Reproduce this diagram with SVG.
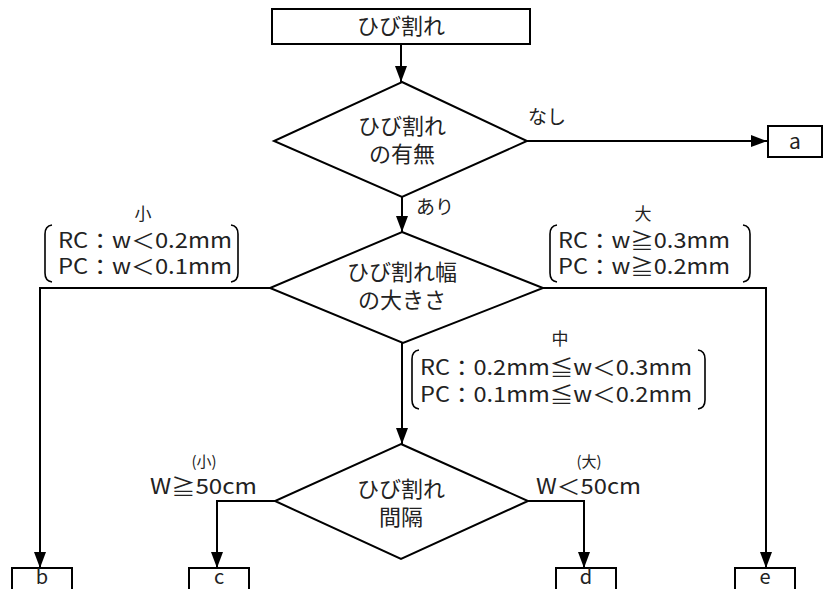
<svg xmlns="http://www.w3.org/2000/svg" width="824" height="589" viewBox="0 0 824 589">
<defs>
<marker id="ah" viewBox="0 0 16 12" refX="16" refY="6" markerWidth="16" markerHeight="12" markerUnits="userSpaceOnUse" orient="auto">
<path d="M0,0 L16,6 L0,12 z" fill="#000"/>
</marker>
<style>
.shape{fill:#fff;stroke:#000;stroke-width:2}
.ln{fill:none;stroke:#000;stroke-width:2}
.br{fill:none;stroke:#000;stroke-width:1.6}
text{font-family:"Noto Sans CJK JP","Noto Sans",sans-serif;fill:#222}
.t{font-size:22px;text-anchor:middle}
.lt{font-size:21px;text-anchor:middle}
.bt{font-size:20px;text-anchor:middle}
.lb{font-size:21px}
.jl{font-size:19px}
.sm{font-size:17px;text-anchor:middle}
.xs{font-size:15px;text-anchor:middle}
</style>
</defs>
<g id="connectors">
<path class="ln" d="M401,44 V82" marker-end="url(#ah)"/>
<path class="ln" d="M527,141 H767" marker-end="url(#ah)"/>
<path class="ln" d="M402,197 V232" marker-end="url(#ah)"/>
<path class="ln" d="M270,288 H40 V568" marker-end="url(#ah)"/>
<path class="ln" d="M543,288 H766 V568" marker-end="url(#ah)"/>
<path class="ln" d="M402,343 V444" marker-end="url(#ah)"/>
<path class="ln" d="M275,501 H217 V568" marker-end="url(#ah)"/>
<path class="ln" d="M528,501 H584 V568" marker-end="url(#ah)"/>
</g>
<g id="n_start">
<rect class="shape" x="272" y="9" width="258" height="35"/>
<text class="t" x="401" y="34">ひび割れ</text>
</g>
<g id="d_exist">
<polygon class="shape" points="402,82 527,141 402,197 274,141"/>
<text class="t" x="402" y="134">ひび割れ</text>
<text class="t" x="402" y="162">の有無</text>
</g>
<g id="lbl_nashi"><text class="jl" x="528" y="124">なし</text></g>
<g id="lbl_ari"><text class="jl" x="416" y="214">あり</text></g>
<g id="n_a">
<rect class="shape" x="768" y="126" width="54" height="31"/>
<text class="lt" x="795" y="149">a</text>
</g>
<g id="d_width">
<polygon class="shape" points="402,232 543,288 403,343 270,288"/>
<text class="t" x="402" y="280">ひび割れ幅</text>
<text class="t" x="402" y="308">の大きさ</text>
</g>
<g id="lbl_small">
<text class="sm" x="143" y="220">小</text>
<path class="br" d="M52,225 Q45,226 45,234 V273 Q45,281 52,282"/>
<path class="br" d="M231,225 Q238,226 238,234 V273 Q238,281 231,282"/>
<text class="lb" x="58" y="248" textLength="174" lengthAdjust="spacingAndGlyphs">RC：w＜0.2mm</text>
<text class="lb" x="58" y="274" textLength="174" lengthAdjust="spacingAndGlyphs">PC：w＜0.1mm</text>
</g>
<g id="lbl_large">
<text class="sm" x="643" y="220">大</text>
<path class="br" d="M557,225 Q550,226 550,234 V273 Q550,281 557,282"/>
<path class="br" d="M743,225 Q750,226 750,234 V273 Q750,281 743,282"/>
<text class="lb" x="558" y="248" textLength="172" lengthAdjust="spacingAndGlyphs">RC：w≧0.3mm</text>
<text class="lb" x="558" y="274" textLength="172" lengthAdjust="spacingAndGlyphs">PC：w≧0.2mm</text>
</g>
<g id="lbl_mid">
<text class="sm" x="560" y="345">中</text>
<path class="br" d="M419,350 Q412,351 412,359 V400 Q412,408 419,409"/>
<path class="br" d="M698,350 Q705,351 705,359 V400 Q705,408 698,409"/>
<text class="lb" x="420" y="375" textLength="272" lengthAdjust="spacingAndGlyphs">RC：0.2mm≦w＜0.3mm</text>
<text class="lb" x="420" y="402" textLength="272" lengthAdjust="spacingAndGlyphs">PC：0.1mm≦w＜0.2mm</text>
</g>
<g id="d_spacing">
<polygon class="shape" points="401,444 528,501 401,559 275,501"/>
<text class="t" x="401" y="497">ひび割れ</text>
<text class="t" x="401" y="525">間隔</text>
</g>
<g id="lbl_sp_small">
<text class="xs" x="204" y="467">(小)</text>
<text class="lb" x="150" y="494" textLength="107" lengthAdjust="spacingAndGlyphs">W≧50cm</text>
</g>
<g id="lbl_sp_large">
<text class="xs" x="589" y="467">(大)</text>
<text class="lb" x="536" y="494" textLength="105" lengthAdjust="spacingAndGlyphs">W＜50cm</text>
</g>
<g id="n_b"><rect class="shape" x="12" y="568" width="60" height="32"/><text class="bt" x="42" y="584">b</text></g>
<g id="n_c"><rect class="shape" x="189" y="568" width="60" height="32"/><text class="bt" x="219" y="584">c</text></g>
<g id="n_d"><rect class="shape" x="556" y="568" width="60" height="32"/><text class="bt" x="586" y="584">d</text></g>
<g id="n_e"><rect class="shape" x="735" y="568" width="60" height="32"/><text class="bt" x="765" y="584">e</text></g>
</svg>
